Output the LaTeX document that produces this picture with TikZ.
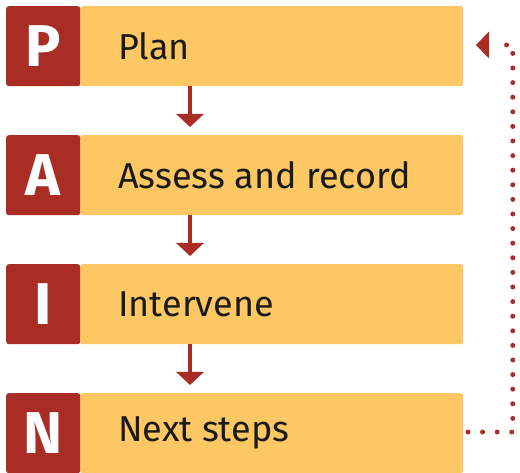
\documentclass[tikz,border=0pt]{standalone}
\usepackage{fontspec}
\setmainfont{Fira Sans}
\usetikzlibrary{arrows.meta}
\definecolor{pred}{HTML}{A92D24}
\definecolor{pyel}{HTML}{FDC763}
\definecolor{ptxt}{HTML}{1A1A1A}
\tikzset{
  barbox/.style={fill=pyel, draw=none, rounded corners=2.5pt, minimum width=383pt, minimum height=80pt, inner sep=0pt, anchor=north west},
  letbox/.style={fill=pred, draw=none, rounded corners=2.5pt, minimum width=74pt, minimum height=80pt, inner sep=0pt, anchor=north west, text=white, font=\fontsize{59}{59}\selectfont\bfseries},
  lbl/.style={anchor=west, inner sep=0pt, text=ptxt, font=\fontsize{36}{36}\selectfont},
  flow/.style={draw=pred, line width=4.5pt, -{Triangle[width=27pt,length=13pt]}},
  loopline/.style={draw=pred, line width=5pt, line cap=round, dash pattern=on 0pt off 14.6pt},
}
\begin{document}
\begin{tikzpicture}[x=1pt,y=-1pt]
\useasboundingbox (0,0) rectangle (520,473);
% rows
\node[barbox] (pb) at (80,6) {};
\node[letbox] (p) at (6,6) {P};
\node[lbl] (pt) at (118,46) {Plan};
\node[barbox] (ab) at (80,135) {};
\node[letbox] (a) at (6,135) {A};
\node[lbl] (at) at (118,175) {Assess and record};
\node[barbox] (ib) at (80,264) {};
\node[letbox] (i) at (6,264) {I};
\node[lbl] (it) at (118,304) {Intervene};
\node[barbox] (nb) at (80,393) {};
\node[letbox] (n) at (6,393) {N};
\node[lbl] (nt) at (118,433) {Next steps};
% arrows
\coordinate (a1s) at (190,86);
\coordinate (a1e) at (190,127);
\draw[flow] (a1s) -- (a1e);
\coordinate (a2s) at (190,215);
\coordinate (a2e) at (190,256);
\draw[flow] (a2s) -- (a2e);
\coordinate (a3s) at (190,344);
\coordinate (a3e) at (190,385);
\draw[flow] (a3s) -- (a3e);
% loop back
\coordinate (ls) at (468,432);
\coordinate (lc1) at (512.8,432);
\coordinate (lc2) at (512.8,45);
\coordinate (le) at (496,45);
\coordinate (tip) at (476,45);
\draw[loopline] (ls) -- (lc1) -- (lc2) -- (le);
\fill[pred] (tip) -- (489,31.5) -- (489,58.5) -- cycle;
\end{tikzpicture}
\end{document}
